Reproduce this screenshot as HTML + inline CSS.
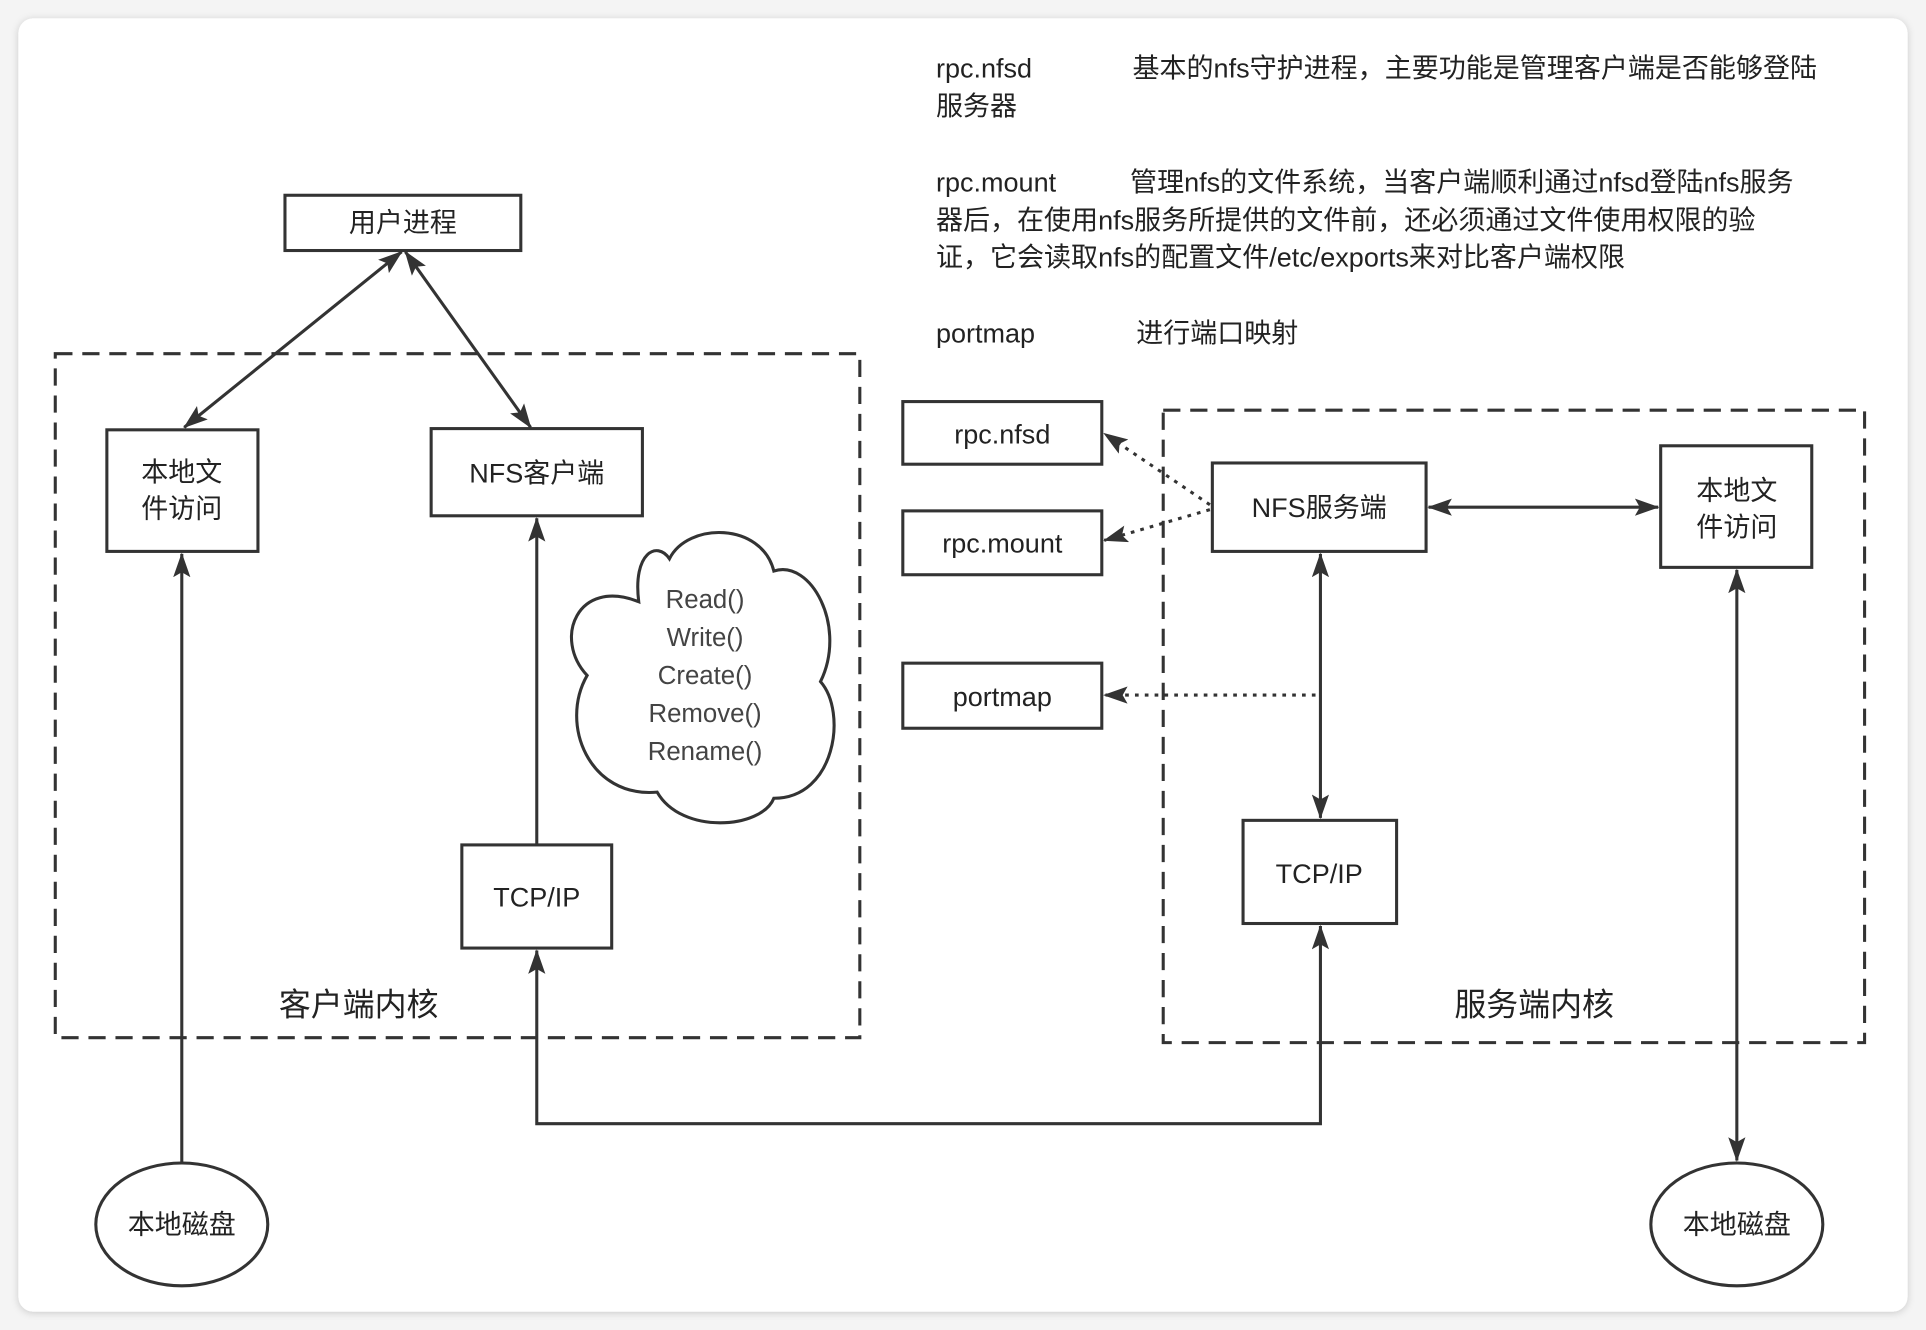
<!DOCTYPE html>
<html><head><meta charset="utf-8"><style>
html,body{margin:0;padding:0;background:#f4f4f4;}
svg{display:block;}
text{font-family:"Liberation Sans","Noto Sans CJK SC",sans-serif;fill:#222;}
</style></head><body>
<svg width="1926" height="1330" viewBox="0 0 1568 1083" preserveAspectRatio="none" xmlns="http://www.w3.org/2000/svg">
<defs>
<marker id="a" viewBox="0 0 20 14" refX="19" refY="7" markerWidth="20" markerHeight="14" markerUnits="userSpaceOnUse" orient="auto-start-reverse"><path d="M0,0 L20,7 L0,14 L4,7 Z" fill="#333"/></marker>
<filter id="sh" x="-5%" y="-5%" width="110%" height="110%"><feDropShadow dx="0" dy="1" stdDeviation="3" flood-color="#000" flood-opacity="0.18"/></filter>
</defs>
<rect x="0" y="0" width="1568" height="1083" fill="#f4f4f4"/>
<rect x="15" y="15" width="1538" height="1053" rx="12" fill="#fff" filter="url(#sh)"/>
<g fill="none" stroke="#333" stroke-width="2.5">
<rect x="45" y="288" width="655" height="557" stroke-dasharray="14,8"/>
<rect x="947" y="334" width="571" height="515" stroke-dasharray="14,8"/>
<rect x="232" y="159" width="192" height="45" fill="#fff"/>
<rect x="87" y="350" width="123" height="99"/>
<rect x="351" y="349" width="172" height="71"/>
<rect x="376" y="688" width="122" height="84"/>
<rect x="987" y="377" width="174" height="72"/>
<rect x="1352" y="363" width="123" height="99"/>
<rect x="1012" y="668" width="125" height="84"/>
<rect x="735" y="327" width="162" height="51"/>
<rect x="735" y="416" width="162" height="52"/>
<rect x="735" y="540" width="162" height="53"/>
<ellipse cx="148" cy="997" rx="70" ry="50"/>
<ellipse cx="1414" cy="997" rx="70" ry="50"/>
<path d="M520,490 C470,470 450,520 478,550 C455,590 480,650 535,645 C555,680 620,675 630,650 C680,650 690,580 668,555 C690,510 660,455 630,465 C620,425 560,425 545,455 C535,440 515,450 520,490 Z"/>
</g>
<g stroke="#333" stroke-width="2.5" fill="none">
<line x1="148" y1="947" x2="148" y2="451" marker-end="url(#a)"/>
<line x1="437" y1="688" x2="437" y2="422" marker-end="url(#a)"/>
<line x1="327" y1="205" x2="150" y2="348" marker-start="url(#a)" marker-end="url(#a)"/>
<line x1="330" y1="205" x2="432" y2="348" marker-start="url(#a)" marker-end="url(#a)"/>
<polyline points="437,774 437,915 1075,915 1075,754" marker-start="url(#a)" marker-end="url(#a)"/>
<line x1="1163" y1="413" x2="1350" y2="413" marker-start="url(#a)" marker-end="url(#a)"/>
<line x1="1075" y1="451" x2="1075" y2="666" marker-start="url(#a)" marker-end="url(#a)"/>
<line x1="1414" y1="464" x2="1414" y2="945" marker-start="url(#a)" marker-end="url(#a)"/>
<g stroke-dasharray="3,5">
<line x1="985" y1="411" x2="899" y2="353" marker-end="url(#a)"/>
<line x1="985" y1="415" x2="899" y2="440" marker-end="url(#a)"/>
<line x1="1071" y1="566" x2="899" y2="566" marker-end="url(#a)"/>
</g>
</g>
<g font-size="22" text-anchor="middle">
<text x="328" y="189">用户进程</text>
<text x="148" y="392">本地文</text><text x="148" y="422">件访问</text>
<text x="437" y="393">NFS客户端</text>
<text x="437" y="738">TCP/IP</text>
<text x="1074" y="421">NFS服务端</text>
<text x="1414" y="407">本地文</text><text x="1414" y="437">件访问</text>
<text x="1074" y="719">TCP/IP</text>
<text x="816" y="361">rpc.nfsd</text>
<text x="816" y="450">rpc.mount</text>
<text x="816" y="575">portmap</text>
<text x="148" y="1005">本地磁盘</text>
<text x="1414" y="1005">本地磁盘</text>
<text x="292" y="827" font-size="26">客户端内核</text>
<text x="1249" y="827" font-size="26">服务端内核</text>
</g>
<g font-size="21" text-anchor="middle" style="fill:#444">
<text x="574" y="495" style="fill:#444">Read()</text>
<text x="574" y="526" style="fill:#444">Write()</text>
<text x="574" y="557" style="fill:#444">Create()</text>
<text x="574" y="588" style="fill:#444">Remove()</text>
<text x="574" y="619" style="fill:#444">Rename()</text>
</g>
<g font-size="22">
<text x="762" y="63">rpc.nfsd</text>
<text x="922" y="63">基本的nfs守护进程，主要功能是管理客户端是否能够登陆</text>
<text x="762" y="94">服务器</text>
<text x="762" y="156">rpc.mount</text>
<text x="920" y="156">管理nfs的文件系统，当客户端顺利通过nfsd登陆nfs服务</text>
<text x="762" y="187">器后，在使用nfs服务所提供的文件前，还必须通过文件使用权限的验</text>
<text x="762" y="217">证，它会读取nfs的配置文件/etc/exports来对比客户端权限</text>
<text x="762" y="279">portmap</text>
<text x="925" y="279">进行端口映射</text>
</g>
</svg>
</body></html>
